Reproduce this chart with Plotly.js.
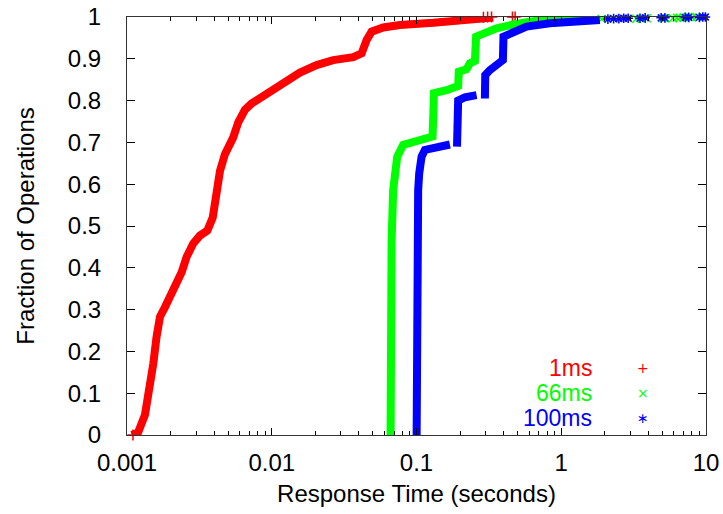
<!DOCTYPE html>
<html>
<head>
<meta charset="utf-8">
<script src="https://cdn.plot.ly/plotly-3.0.1.min.js"></script>
<style>html,body{margin:0;padding:0;background:#fff;}#chart{width:723px;height:514px;}</style>
</head>
<body>
<div id="chart"></div>
<script>
// ---- data (response time in seconds, cumulative fraction) ----
var seriesNames = ["1ms", "66ms", "100ms"];

var red_x = [0.001078, 0.00119, 0.00133, 0.00144, 0.00152, 0.00160, 0.00169, 0.00183, 0.00209, 0.00239,
             0.00258, 0.00287, 0.00319, 0.00359, 0.00391, 0.00416, 0.00439, 0.00475, 0.00542, 0.00587,
             0.00653, 0.00726, 0.00829, 0.00972, 0.01024, 0.01336, 0.01566, 0.02042, 0.02659, 0.03654,
             0.04178, 0.04523, 0.04898, 0.05888, 0.0768, 0.1305, 0.1994, 0.3386];
var red_y = [0, 0.005, 0.048, 0.108, 0.171, 0.235, 0.283, 0.306, 0.346, 0.39,
             0.426, 0.458, 0.477, 0.489, 0.52, 0.576, 0.632, 0.672, 0.712, 0.748,
             0.778, 0.793, 0.806, 0.821, 0.829, 0.857, 0.867, 0.885, 0.897, 0.904,
             0.913, 0.945, 0.965, 0.975, 0.981, 0.986, 0.991, 0.999];
var red_tail_x = [0.0011, 0.29, 0.31, 0.33, 0.46, 0.48];
var red_tail_y = [0, 0.999, 1, 1, 1, 1];

var green_x = [0.0662, 0.0664, 0.0673, 0.0690, 0.0709, 0.0736, 0.0809, 0.0949, 0.1055, 0.1204,
               0.1290, 0.1305, 0.1320, 0.1614, 0.1892, 0.1941, 0.1960, 0.2218, 0.2337, 0.2532,
               0.2580, 0.2741, 0.3213, 0.3574, 0.4655, 0.5177, 0.6070, 0.6752, 1.026, 1.5];
var green_y = [0, 0.25, 0.466, 0.586, 0.626, 0.666, 0.694, 0.700, 0.706, 0.712,
               0.714, 0.76, 0.818, 0.825, 0.83, 0.835, 0.869, 0.875, 0.889, 0.895,
               0.953, 0.957, 0.966, 0.973, 0.982, 0.986, 0.989, 0.991, 0.994, 0.995];
var green_tail_x = [1.9, 2.3, 3.3, 3.6, 3.9, 5.0, 5.2, 5.9, 6.3, 6.6, 7.0, 7.5, 8.0, 8.6];
var green_tail_y = [0.995, 0.996, 0.996, 0.996, 0.997, 0.997, 0.997, 0.997, 0.998, 0.998, 0.999, 1, 0.999, 1];

// null marks a gap in the measured points
var blue_x = [0.1002, 0.1005, 0.1011, 0.1027, 0.1044, 0.1084, 0.1143, 0.1377, 0.1614, 0.1701,
              null, 0.1905, 0.1920, 0.1940, 0.2160, 0.2600, null, 0.2968, 0.2985, 0.3213,
              0.3650, 0.3952, 0.3990, 0.4417, 0.5177, 0.5759, 0.834, 1.410, 1.848];
var blue_y = [0, 0.25, 0.466, 0.586, 0.626, 0.666, 0.682, 0.690, 0.694, 0.695,
              null, 0.690, 0.76, 0.80, 0.808, 0.813, null, 0.805, 0.861, 0.873,
              0.89, 0.897, 0.953, 0.961, 0.972, 0.977, 0.985, 0.991, 0.993];
var blue_tail_x = [2.1, 2.3, 2.5, 2.7, 2.9, 3.5, 3.8, 4.9, 5.2, 7.2, 7.6, 9.0, 9.5, 9.9];
var blue_tail_y = [0.995, 0.996, 0.996, 0.997, 0.997, 0.997, 0.998, 0.998, 0.998, 0.999, 0.999, 0.999, 1, 1];

var xTickVals = [0.001, 0.01, 0.1, 1, 10];
var xTickText = ["0.001", "0.01", "0.1", "1", "10"];
var xMinorVals = [];
[0.001, 0.01, 0.1, 1].forEach(function (d) { for (var k = 2; k <= 9; k++) xMinorVals.push(d * k); });

// ---- styling ----
var colors = ["#ff0000", "#00ff00", "#0000ff"];
var symbols = ["cross-thin-open", "x-thin-open", "asterisk-open"];
var legendGlyphs = ["+", "\u00d7", "\u2217"];
var FONT = "Liberation Sans, Arial, Helvetica, sans-serif";

function band(x, y, c) {
  return {x: x, y: y, type: "scatter", mode: "lines", connectgaps: false,
          line: {color: c, width: 8, shape: "linear"},
          hoverinfo: "skip", showlegend: false};
}
function tail(x, y, c, s) {
  return {x: x, y: y, type: "scatter", mode: "markers", cliponaxis: false,
          marker: {symbol: s, size: 8, color: c, line: {color: c, width: 1.5}},
          hoverinfo: "skip", showlegend: false};
}

var data = [
  band(red_x, red_y, colors[0]), tail(red_tail_x, red_tail_y, colors[0], symbols[0]),
  band(green_x, green_y, colors[1]), tail(green_tail_x, green_tail_y, colors[1], symbols[1]),
  band(blue_x, blue_y, colors[2]), tail(blue_tail_x, blue_tail_y, colors[2], symbols[2])
];

var annotations = [];
var legendY = [0.160, 0.100, 0.041];
for (var i = 0; i < seriesNames.length; i++) {
  annotations.push({xref: "paper", yref: "paper", x: 0.805, y: legendY[i], xanchor: "right", yanchor: "middle",
                    height: 22, borderpad: 0,
                    text: seriesNames[i], showarrow: false, font: {family: FONT, size: 23, color: colors[i]}});
  annotations.push({xref: "paper", yref: "paper", x: 0.891, y: legendY[i], xanchor: "center", yanchor: "middle",
                    height: 16, borderpad: 0,
                    text: legendGlyphs[i], showarrow: false, font: {family: "DejaVu Sans, sans-serif", size: 14, color: colors[i]}});
}

var layout = {
  width: 723, height: 514,
  margin: {l: 127, r: 17, t: 17, b: 79, pad: 0},
  paper_bgcolor: "#ffffff", plot_bgcolor: "#ffffff",
  font: {family: FONT, size: 24, color: "#000"},
  showlegend: false,
  xaxis: {
    type: "log", range: [-3, 1], autorange: false,
    tickmode: "array", tickvals: xTickVals, ticktext: xTickText,
    ticks: "inside", ticklen: 7, tickwidth: 1, tickcolor: "#000",
    minor: {tickmode: "array", tickvals: xMinorVals, ticks: "inside", ticklen: 4, tickwidth: 1, tickcolor: "#000", showgrid: false},
    showline: true, linecolor: "#333", linewidth: 1, mirror: "ticks",
    showgrid: false, zeroline: false,
    tickfont: {family: FONT, size: 24, color: "#000"},
    ticklabelstandoff: 6,
    title: {text: "Response Time (seconds)", font: {family: FONT, size: 24, color: "#000"}, standoff: 10}
  },
  yaxis: {
    range: [0, 1], autorange: false, dtick: 0.1, tick0: 0,
    ticks: "inside", ticklen: 8, tickwidth: 1, tickcolor: "#000",
    showline: true, linecolor: "#333", linewidth: 1, mirror: "ticks",
    showgrid: false, zeroline: false,
    tickfont: {family: FONT, size: 24, color: "#000"},
    ticklabelstandoff: 20,
    title: {text: "Fraction of Operations", font: {family: FONT, size: 24, color: "#000"}, standoff: 26}
  },
  annotations: annotations
};

Plotly.newPlot("chart", data, layout, {staticPlot: true, displayModeBar: false});
</script>
</body>
</html>
